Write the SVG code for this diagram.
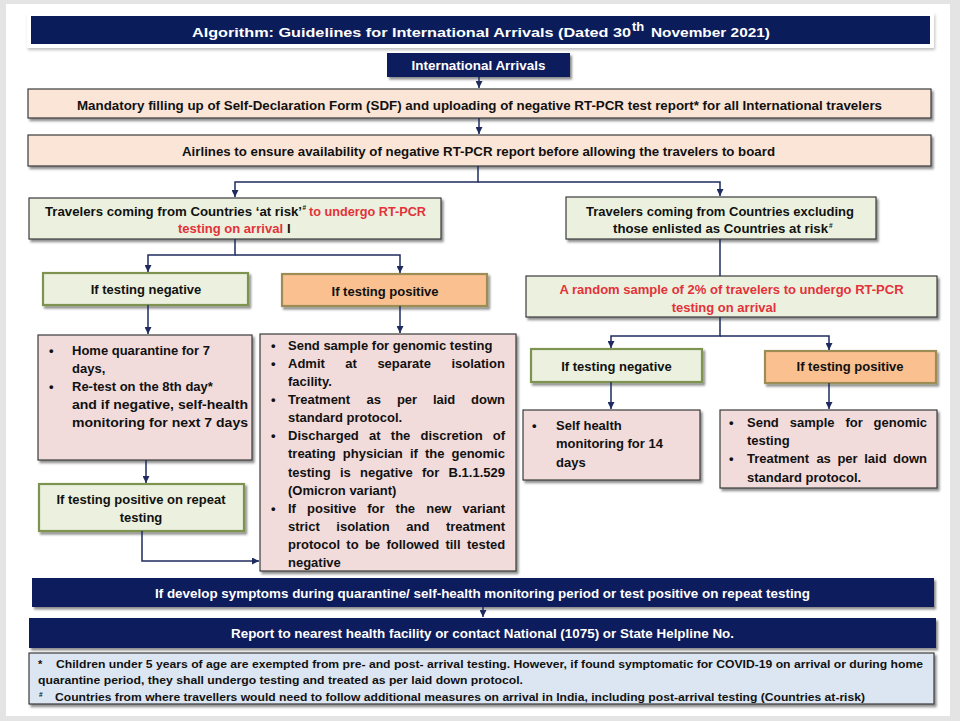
<svg xmlns="http://www.w3.org/2000/svg" width="960" height="721" viewBox="0 0 960 721">
<defs>
<filter id="sh" x="-5%" y="-10%" width="115%" height="140%">
<feDropShadow dx="2" dy="2.5" stdDeviation="1.2" flood-color="#000" flood-opacity="0.45"/>
</filter>
<filter id="shl" x="-5%" y="-20%" width="110%" height="160%">
<feDropShadow dx="1" dy="2" stdDeviation="1.5" flood-color="#000" flood-opacity="0.25"/>
</filter>
<marker id="ah" viewBox="0 0 10 10" refX="10" refY="5" markerWidth="7" markerHeight="7" orient="auto" markerUnits="userSpaceOnUse">
<path d="M0,0 L10,5 L0,10 z" fill="#1f2b5e"/>
</marker>
</defs>
<style>
text{font-family:"Liberation Sans",Arial,sans-serif;font-weight:bold;font-size:13px;fill:#111}
.w{fill:#fff}
.r{fill:#e3323a}
.c{text-anchor:middle}
.sup{font-size:6.5px}
.navy{fill:#0d1f5c;filter:url(#sh)}
.peach{fill:#fbe5d6;stroke:#3a3a3a;stroke-width:1.2;filter:url(#sh)}
.pink{fill:#f2dcdb;stroke:#3a3a3a;stroke-width:1.2;filter:url(#sh)}
.gbox{fill:#ebf1de;stroke:#3a3a3a;stroke-width:1.2;filter:url(#sh)}
.gol{fill:#ebf1de;stroke:#7e9350;stroke-width:2.2;filter:url(#sh)}
.org{fill:#fac090;stroke:#9c8c55;stroke-width:2.2;filter:url(#sh)}
.note{fill:#dce6f2;stroke:#3a3a3a;stroke-width:1.2;filter:url(#sh)}
.con path{fill:none;stroke:#1f2b5e;stroke-width:1.5}
.fn{font-size:11px}
</style>
<rect x="0" y="0" width="960" height="721" fill="#e4e4e4"/>
<rect x="6" y="4" width="944" height="712" fill="#ffffff"/>

<g id="title">
<rect x="27" y="13" width="907" height="35" fill="#fff" filter="url(#shl)"/>
<rect x="31" y="16" width="899" height="28" fill="#0b1c5a"/>
<text class="w" x="192" y="37" font-size="16" textLength="439" lengthAdjust="spacingAndGlyphs">Algorithm: Guidelines for International Arrivals (Dated 30</text>
<text class="w" x="632" y="31" font-size="9">th</text>
<text class="w" x="651" y="37" font-size="16" textLength="119" lengthAdjust="spacingAndGlyphs">November 2021)</text>
</g>

<g id="intl">
<rect class="navy" x="387" y="53" width="183" height="24"/>
<text class="w c" x="478.5" y="70" font-size="13" textLength="134" lengthAdjust="spacingAndGlyphs">International Arrivals</text>
</g>

<g id="sdf">
<rect class="peach" x="28" y="89" width="903" height="29"/>
<text x="77" y="110" font-size="12.5" textLength="805" lengthAdjust="spacingAndGlyphs">Mandatory filling up of Self-Declaration Form (SDF) and uploading of negative RT-PCR test report* for all International  travelers</text>
</g>

<g id="airlines">
<rect class="peach" x="28" y="135" width="903" height="31"/>
<text x="182" y="156" font-size="12.5" textLength="593" lengthAdjust="spacingAndGlyphs">Airlines to ensure availability of negative RT-PCR report before allowing the travelers to board</text>
</g>

<g id="atrisk">
<rect class="gbox" x="29" y="198" width="412" height="41"/>
<text x="45" y="216" textLength="257" lengthAdjust="spacingAndGlyphs">Travelers coming from Countries ‘at risk’</text>
<text class="sup" x="302.5" y="210">#</text>
<text class="r" x="309" y="216" textLength="117" lengthAdjust="spacingAndGlyphs">to undergo RT-PCR</text>
<text class="r" x="178" y="233" textLength="105" lengthAdjust="spacingAndGlyphs">testing on arrival</text>
<text x="287" y="233">I</text>
</g>

<g id="excl">
<rect class="gbox" x="566" y="197" width="310" height="42"/>
<text class="c" x="720" y="216">Travelers coming from Countries excluding</text>
<text x="613" y="233" textLength="215" lengthAdjust="spacingAndGlyphs">those enlisted as Countries at risk</text>
<text class="sup" x="829" y="228">#</text>
</g>

<g id="neg1">
<rect class="gol" x="43" y="273" width="205" height="32"/>
<text class="c" x="146" y="294" font-size="13.5">If testing negative</text>
</g>

<g id="pos1">
<rect class="org" x="282" y="274" width="205" height="32"/>
<text class="c" x="385" y="296">If testing positive</text>
</g>

<g id="negbox1">
<rect class="pink" x="38" y="335" width="214" height="125"/>
<text x="49" y="355">•</text>
<text x="72" y="355" font-size="13.5">Home quarantine for 7</text>
<text x="72" y="373" font-size="13.5">days,</text>
<text x="49" y="391">•</text>
<text x="72" y="391" font-size="13.5">Re-test on the 8th day*</text>
<text x="72" y="409" font-size="13.5" textLength="176" lengthAdjust="spacingAndGlyphs">and if negative, self-health</text>
<text x="72" y="427" font-size="13.5" textLength="176" lengthAdjust="spacingAndGlyphs">monitoring for next 7 days</text>
</g>

<g id="posbox1">
<rect class="pink" x="260" y="334" width="256" height="237"/>
<text x="271" y="350">•</text>
<text x="288" y="350">Send sample for genomic testing</text>
<text x="271" y="368">•</text>
<text y="368"><tspan x="288">Admit</tspan><tspan x="345.3">at</tspan><tspan x="377.4">separate</tspan><tspan x="451.4">isolation</tspan></text>
<text x="288" y="386">facility.</text>
<text x="271" y="404">•</text>
<text y="404"><tspan x="288">Treatment</tspan><tspan x="366.6">as</tspan><tspan x="396.9">per</tspan><tspan x="432.9">laid</tspan><tspan x="471.1">down</tspan></text>
<text x="288" y="422">standard protocol.</text>
<text x="271" y="440">•</text>
<text y="440"><tspan x="288">Discharged</tspan><tspan x="369">at</tspan><tspan x="390.8">the</tspan><tspan x="420.5">discretion</tspan><tspan x="492.8">of</tspan></text>
<text y="458"><tspan x="288">treating</tspan><tspan x="342.8">physician</tspan><tspan x="409.9">if</tspan><tspan x="424.9">the</tspan><tspan x="451.5">genomic</tspan></text>
<text y="477"><tspan x="288">testing</tspan><tspan x="339.9">is</tspan><tspan x="360">negative</tspan><tspan x="422">for</tspan><tspan x="448.6">B.1.1.529</tspan></text>
<text x="288" y="495">(Omicron variant)</text>
<text x="271" y="513">•</text>
<text y="513"><tspan x="288">If</tspan><tspan x="307">positive</tspan><tspan x="367.2">for</tspan><tspan x="395.6">the</tspan><tspan x="426.2">new</tspan><tspan x="462.5">variant</tspan></text>
<text y="531"><tspan x="288">strict</tspan><tspan x="336.3">isolation</tspan><tspan x="406.3">and</tspan><tspan x="445.9">treatment</tspan></text>
<text y="549"><tspan x="288">protocol</tspan><tspan x="346.3">to</tspan><tspan x="364.9">be</tspan><tspan x="386.4">followed</tspan><tspan x="445.4">till</tspan><tspan x="466.9">tested</tspan></text>
<text x="288" y="567">negative</text>
</g>

<g id="repeat">
<rect class="gol" x="39" y="484" width="205" height="47"/>
<text class="c" x="141" y="504" font-size="13.2">If testing positive on repeat</text>
<text class="c" x="141" y="522" font-size="13.2">testing</text>
</g>

<g id="random">
<rect class="gbox" x="526" y="276" width="411" height="41"/>
<text class="r c" x="731.5" y="294">A random sample of 2% of travelers to undergo RT-PCR</text>
<text class="r c" x="724" y="312">testing on arrival</text>
</g>

<g id="neg2">
<rect class="gol" x="531" y="349" width="171" height="33"/>
<text class="c" x="616.5" y="371">If testing negative</text>
</g>

<g id="pos2">
<rect class="org" x="765" y="351" width="171" height="32"/>
<text class="c" x="850" y="371">If testing positive</text>
</g>

<g id="negbox2">
<rect class="pink" x="523" y="410" width="177" height="70"/>
<text x="532" y="430">•</text>
<text x="556" y="430">Self health</text>
<text x="556" y="448">monitoring for 14</text>
<text x="556" y="467">days</text>
</g>

<g id="posbox2">
<rect class="pink" x="720" y="410" width="217" height="78"/>
<text x="729" y="427">•</text>
<text y="427"><tspan x="747">Send</tspan><tspan x="789.7">sample</tspan><tspan x="845.4">for</tspan><tspan x="873.6">genomic</tspan></text>
<text x="747" y="445">testing</text>
<text x="729" y="463">•</text>
<text y="463"><tspan x="747">Treatment</tspan><tspan x="816.4">as</tspan><tspan x="837.4">per</tspan><tspan x="864.2">laid</tspan><tspan x="893.1">down</tspan></text>
<text x="747" y="482">standard protocol.</text>
</g>

<g id="symptoms">
<rect class="navy" x="32" y="578" width="902" height="29"/>
<text class="w" x="155" y="598" font-size="12.5" textLength="655" lengthAdjust="spacingAndGlyphs">If develop symptoms during quarantine/ self-health monitoring period or test positive on repeat testing</text>
</g>

<g id="report">
<rect class="navy" x="29" y="618" width="907" height="30"/>
<text class="w" x="231" y="638" font-size="12.5" textLength="503" lengthAdjust="spacingAndGlyphs">Report to nearest health facility or contact National (1075) or State Helpline No.</text>
</g>

<g id="notes">
<rect class="note" x="29" y="653" width="905" height="51"/>
<text class="fn" x="38" y="668">*</text>
<text class="fn" x="56" y="668" textLength="867" lengthAdjust="spacingAndGlyphs">Children under 5 years of age are exempted from pre- and post- arrival testing. However, if found symptomatic for COVID-19 on arrival or during home</text>
<text class="fn" x="38" y="684" textLength="485" lengthAdjust="spacingAndGlyphs">quarantine period, they shall undergo testing and treated as per laid down protocol.</text>
<text class="sup" x="39" y="697">#</text>
<text class="fn" x="55" y="701" textLength="810" lengthAdjust="spacingAndGlyphs">Countries from where travellers would need to follow additional measures on arrival in India, including post-arrival testing (Countries at-risk)</text>
</g>

<g id="connectors" class="con">
<path d="M479,77 V88" marker-end="url(#ah)"/>
<path d="M479,118 V134" marker-end="url(#ah)"/>
<path d="M478,166 V182 H235 V197" marker-end="url(#ah)"/>
<path d="M478,182 H720 V196" marker-end="url(#ah)"/>
<path d="M235,239 V255 H148 V272" marker-end="url(#ah)"/>
<path d="M235,255 H400 V273" marker-end="url(#ah)"/>
<path d="M148,305 V334" marker-end="url(#ah)"/>
<path d="M400,306 V333" marker-end="url(#ah)"/>
<path d="M146,460 V483" marker-end="url(#ah)"/>
<path d="M142,531 V561 H259" marker-end="url(#ah)"/>
<path d="M720,239 V276"/>
<path d="M720,317 V336 H611 V348" marker-end="url(#ah)"/>
<path d="M720,336 H829 V350" marker-end="url(#ah)"/>
<path d="M611,382 V409" marker-end="url(#ah)"/>
<path d="M829,383 V409" marker-end="url(#ah)"/>
<path d="M483,607 V617" marker-end="url(#ah)"/>
</g>
</svg>
